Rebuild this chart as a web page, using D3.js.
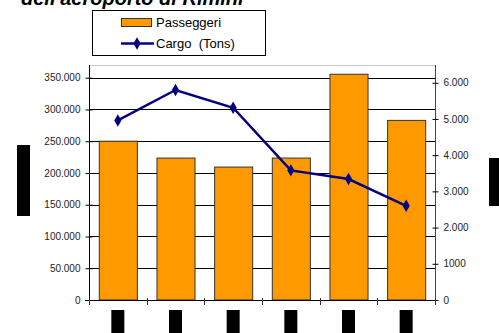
<!DOCTYPE html>
<html><head><meta charset="utf-8">
<script src="https://cdn.jsdelivr.net/npm/d3@7/dist/d3.min.js"></script>
<style>html,body{margin:0;padding:0;background:#fff;}svg{display:block;}</style>
</head><body>
<svg id="chart" width="499" height="333"></svg>
<script>
const categories = ["1","2","3","4","5","6"];
const passeggeri = [250000, 223500, 209300, 223500, 355400, 282800];
const cargo = [4960, 5800, 5310, 3580, 3340, 2600];
const leftTicks = [0, 50000, 100000, 150000, 200000, 250000, 300000, 350000];
const leftTickLabels = ["0","50.000","100.000","150.000","200.000","250.000","300.000","350.000"];
const rightTicks = [0, 1000, 2000, 3000, 4000, 5000, 6000];
const rightTickLabels = ["0","1000","2.000","3.000","4.000","5.000","6.000"];
const titleText = "dell'aeroporto di Rimini";
const seriesNames = ["Passeggeri", "Cargo  (Tons)"];

const svg = d3.select("#chart");
const L = 89, R = 435, T = 65, B = 300;
const font = "'Liberation Sans', Arial, sans-serif";

const x = d3.scaleBand().domain(categories).range([L, R]).paddingInner(0.34).paddingOuter(0.17);
const yL = d3.scaleLinear().domain([0, 370000]).range([B, T]);
const yR = d3.scaleLinear().domain([0, 6490]).range([B, T]);

// title (cut off at top, as in the reference)
svg.append("text").attr("x", 21).attr("y", 5)
  .attr("font-family", font).attr("font-size", 20).attr("font-weight", "bold").attr("font-style", "italic")
  .attr("fill", "#000").text(titleText);

// gridlines
svg.append("g").selectAll("line").data(leftTicks.filter(d => d > 0)).join("line")
  .attr("x1", L).attr("x2", R).attr("y1", d => Math.round(yL(d)) + 0.5).attr("y2", d => Math.round(yL(d)) + 0.5)
  .attr("stroke", "#000").attr("stroke-width", 1);
// top border
svg.append("line").attr("x1", L).attr("x2", R).attr("y1", T + 0.5).attr("y2", T + 0.5).attr("stroke", "#c8c8c8");

// bars
svg.append("g").selectAll("rect").data(passeggeri).join("rect")
  .attr("x", (d, i) => x(categories[i]) + 0.5)
  .attr("y", d => yL(d))
  .attr("width", x.bandwidth())
  .attr("height", d => B - yL(d))
  .attr("fill", "#FF9900").attr("stroke", "#333").attr("stroke-width", 1);

// left axis
const gL = svg.append("g").attr("transform", `translate(${L + 0.5},0)`)
  .call(d3.axisLeft(yL).tickValues(leftTicks).tickFormat((d, i) => leftTickLabels[i]).tickSize(4).tickPadding(5));
gL.select(".domain").attr("d", `M0,${T}V${B}`).attr("stroke", "#000");
gL.selectAll(".tick line").attr("x1", 3).attr("stroke", "#000");
gL.selectAll(".tick text").attr("font-family", font).attr("font-size", 10).attr("fill", "#222");

// right axis
const gR = svg.append("g").attr("transform", `translate(${R + 0.5},0)`)
  .call(d3.axisRight(yR).tickValues(rightTicks).tickFormat((d, i) => rightTickLabels[i]).tickSize(3).tickPadding(5));
gR.select(".domain").attr("d", `M0,${T}V${B}`).attr("stroke", "#444");
gR.selectAll(".tick line").attr("x1", -3).attr("stroke", "#000");
gR.selectAll(".tick text").attr("font-family", font).attr("font-size", 10).attr("fill", "#222");

// bottom axis
const step = x.step();
const bounds = d3.range(categories.length + 1).map(i => L + (x(categories[0]) - L) - x.paddingOuter() * step + i * step);
svg.append("line").attr("x1", L - 4).attr("x2", R).attr("y1", B + 0.5).attr("y2", B + 0.5).attr("stroke", "#000");
svg.append("g").selectAll("line").data(bounds).join("line")
  .attr("x1", d => Math.round(d) + 0.5).attr("x2", d => Math.round(d) + 0.5)
  .attr("y1", B - 2).attr("y2", B + 5).attr("stroke", "#333");

// category labels (redacted boxes)
svg.append("g").selectAll("rect").data(categories).join("rect")
  .attr("x", d => x(d) + x.bandwidth() / 2 - 6.5).attr("y", 310).attr("width", 13).attr("height", 23).attr("fill", "#000");
// axis titles (redacted boxes)
svg.append("rect").attr("x", 17).attr("y", 145).attr("width", 13).attr("height", 71).attr("fill", "#000");
svg.append("rect").attr("x", 489).attr("y", 158).attr("width", 10).attr("height", 48).attr("fill", "#000");

// line
const line = d3.line().x((d, i) => x(categories[i]) + x.bandwidth() / 2).y(d => yR(d));
svg.append("path").datum(cargo).attr("d", line).attr("fill", "none").attr("stroke", "#000080").attr("stroke-width", 2.5);
const diamond = d3.symbol().type(d3.symbolDiamond).size(45);
svg.append("g").selectAll("path").data(cargo).join("path")
  .attr("transform", (d, i) => `translate(${x(categories[i]) + x.bandwidth() / 2},${yR(d)})`)
  .attr("d", diamond).attr("fill", "#000080");

// legend
const lg = svg.append("g");
lg.append("rect").attr("x", 92.5).attr("y", 10.5).attr("width", 173).attr("height", 45).attr("fill", "#fff").attr("stroke", "#000");
lg.append("rect").attr("x", 121.5).attr("y", 18.5).attr("width", 30).attr("height", 8).attr("fill", "#FF9900").attr("stroke", "#333");
lg.append("text").attr("x", 156).attr("y", 27).attr("font-family", font).attr("font-size", 13).attr("fill", "#000").text(seriesNames[0]);
lg.append("line").attr("x1", 121).attr("x2", 154).attr("y1", 43.5).attr("y2", 43.5).attr("stroke", "#000080").attr("stroke-width", 2.5);
lg.append("path").attr("transform", "translate(137,43.5)").attr("d", diamond).attr("fill", "#000080");
lg.append("text").attr("x", 156).attr("y", 48).attr("font-family", font).attr("font-size", 13).attr("fill", "#000").style("white-space", "pre").text(seriesNames[1]);
</script>
</body></html>
